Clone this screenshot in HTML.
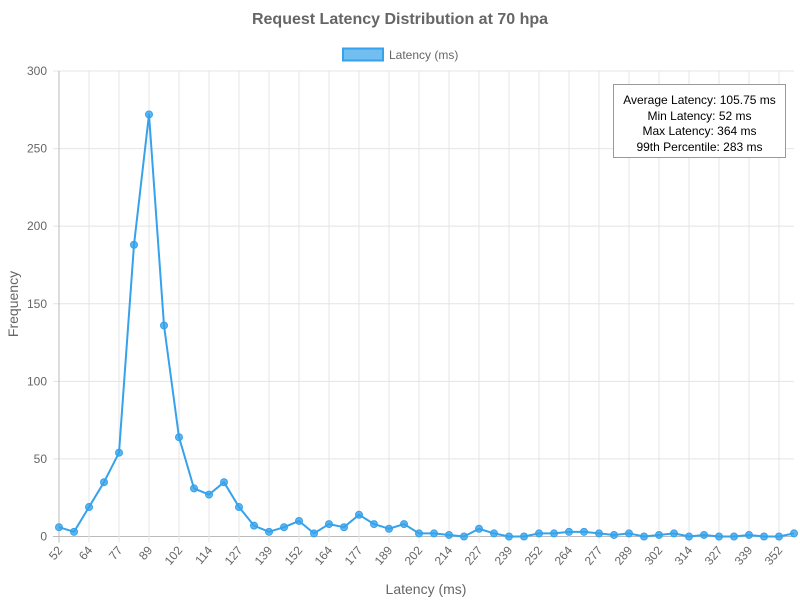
<!DOCTYPE html>
<html><head><meta charset="utf-8"><style>
body{margin:0;background:#fff;font-family:"Liberation Sans",Arial,sans-serif}
#wrap{position:relative;width:800px;height:600px}
#stats{position:absolute;left:613px;top:84px;width:171px;height:72px;border:1px solid #999;background:#fff;font-size:12px;color:#000;text-align:center;line-height:15.5px;padding-top:8px;box-sizing:border-box;height:74px;width:173px}
</style></head><body>
<div id="wrap">
<svg id="chart" width="800" height="600"></svg>
<div id="stats">Average Latency: 105.75 ms<br>Min Latency: 52 ms<br>Max Latency: 364 ms<br>99th Percentile: 283 ms</div>
</div>
<script>
const categories=["52","58","64","71","77","83","89","96","102","108","114","121","127","133","139","146","152","158","164","171","177","183","189","196","202","208","214","220","227","233","239","245","252","258","264","270","277","283","289","295","302","308","314","320","327","333","339","345","352","358"];
const values=[6,3,19,35,54,188,272,136,64,31,27,35,19,7,3,6,10,2,8,6,14,8,5,8,2,2,1,0,5,2,0,0,2,2,3,3,2,1,2,0,1,2,0,1,0,0,1,0,0,2];
const yTicks=[0,50,100,150,200,250,300];
const NS="http://www.w3.org/2000/svg";
const svg=document.getElementById('chart');
const L=59,R=794,T=71,B=536.5,YMAX=300;
const x=i=>L+i*(R-L)/(categories.length-1);
const y=v=>B-v/YMAX*(B-T);
function mk(tag,attrs,parent){const e=document.createElementNS(NS,tag);for(const k in attrs)e.setAttribute(k,attrs[k]);(parent||svg).appendChild(e);return e;}
let t=mk('text',{x:400,y:24,'text-anchor':'middle','font-size':16,'font-weight':'bold',fill:'#666'});t.textContent='Request Latency Distribution at 70 hpa';


let lg=mk('g',{});


mk('rect',{x:343,y:48.5,width:40,height:12,fill:'rgba(54,162,235,0.7)',stroke:'#36a2eb','stroke-width':2},lg);
let lt=mk('text',{x:389,y:59,'font-size':12,fill:'#666'},lg);lt.textContent='Latency (ms)';
yTicks.forEach(v=>{
  let g=mk('line',{x1:L-6,x2:R,y1:y(v),y2:y(v),stroke:v===0?'#bbb':'#e4e4e4','stroke-width':1});
  
  
  let tt=mk('text',{x:L-12,y:y(v)+4,'text-anchor':'end','font-size':12,fill:'#666'});tt.textContent=v;
  
  
});
categories.forEach((c,i)=>{
  if(i%2)return;
  let g=mk('line',{x1:x(i),x2:x(i),y1:T,y2:B+6,stroke:i===0?'#bbb':'#e4e4e4','stroke-width':1});
  
  
  let tt=mk('text',{x:x(i)+4,y:B+14,'text-anchor':'end','font-size':12,fill:'#666',transform:`rotate(-50 ${x(i)+4} ${B+14})`});tt.textContent=c;
  
  
});
let yt=mk('text',{x:18,y:304,'text-anchor':'middle','font-size':14,fill:'#666',transform:'rotate(-90 18 304)'});yt.textContent='Frequency';


let xt=mk('text',{x:426,y:594,'text-anchor':'middle','font-size':14,fill:'#666'});xt.textContent='Latency (ms)';


let ln=mk('polyline',{points:values.map((v,i)=>x(i)+','+y(v)).join(' '),fill:'none',stroke:'#36a2eb','stroke-width':2,'stroke-linejoin':'round'});


values.forEach((v,i)=>{
  let p=mk('circle',{cx:x(i),cy:y(v),r:3.5,fill:'rgba(54,162,235,0.8)',stroke:'#36a2eb','stroke-width':1});
  
  
});
</script>
</body></html>
